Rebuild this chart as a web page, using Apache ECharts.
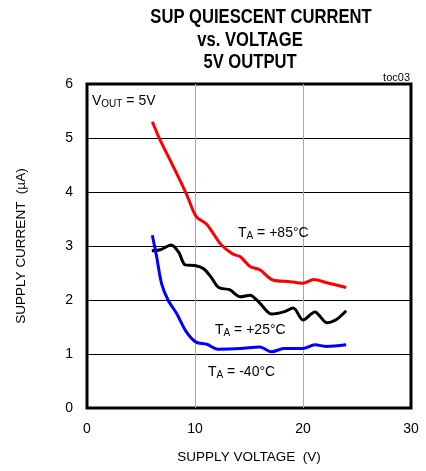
<!DOCTYPE html>
<html>
<head>
<meta charset="utf-8">
<script src="https://cdn.jsdelivr.net/npm/echarts@6/dist/echarts.min.js"></script>
<style>html,body{margin:0;padding:0;background:#fff;}#c{width:426px;height:471px;}</style>
</head>
<body>
<div id="c"></div>
<script>
// Data
const xTicks = [0, 10, 20, 30];
const yTicks = [0, 1, 2, 3, 4, 5, 6];

const hotV = [6.05, 6.8, 7.7, 8.6, 9.3, 10.1, 11.1, 12.4, 13.5, 14.2, 15.1, 16.0, 17.2, 18.8, 20.0, 21.0, 22.2, 24.0];
const hotI = [5.30, 4.95, 4.59, 4.22, 3.92, 3.55, 3.40, 3.03, 2.85, 2.80, 2.62, 2.56, 2.37, 2.34, 2.31, 2.38, 2.32, 2.23];

const roomV = [6.0, 6.8, 7.8, 8.5, 9.1, 10.0, 10.8, 11.5, 12.2, 13.2, 14.2, 15.1, 16.0, 17.1, 18.2, 19.1, 20.0, 21.1, 22.2, 23.1, 24.0];
const roomI = [2.91, 2.93, 3.02, 2.88, 2.65, 2.64, 2.58, 2.42, 2.23, 2.19, 2.06, 2.09, 1.94, 1.74, 1.78, 1.85, 1.63, 1.78, 1.58, 1.64, 1.80];

const coldV = [6.05, 6.45, 6.9, 7.5, 8.3, 9.2, 10.1, 11.1, 12.1, 14.2, 16.0, 17.1, 18.2, 20.0, 21.1, 22.2, 24.0];
const coldI = [3.20, 2.80, 2.31, 2.00, 1.75, 1.41, 1.22, 1.18, 1.09, 1.10, 1.13, 1.04, 1.10, 1.10, 1.17, 1.14, 1.17];

const titleLines = ['SUP QUIESCENT CURRENT', 'vs. VOLTAGE', '5V OUTPUT'];

const zip = (a, b) => a.map((v, i) => [v, b[i]]);
const FONT = "'Liberation Sans', Arial, sans-serif";

const chart = echarts.init(document.getElementById('c'), null, {renderer: 'canvas'});

function txt(x, y, rich, text, extra) {
  return Object.assign({
    type: 'text', x: x, y: y, z: 100,
    style: {
      text: text, rich: rich,
      fontFamily: FONT, fontSize: 14,
      textAlign: 'left', textVerticalAlign: 'middle',
      align: 'left', verticalAlign: 'middle'
    }
  }, extra || {});
}

function subRich(color) {
  return {
    a: {fontFamily: FONT, fontSize: 14, color: color, lineHeight: 18},
    s: {fontFamily: FONT, fontSize: 10, color: color, lineHeight: 18, padding: [6, 0, 0, 0]}
  };
}

const titleY = [17.5, 40, 62.5];
const titleX = [261, 250, 250];

const graphics = titleLines.map((t, i) => ({
  type: 'text', x: titleX[i], y: titleY[i], scaleX: 0.83, z: 100,
  style: {
    text: t, fontFamily: FONT, fontSize: 20, fontWeight: 'bold', fill: '#000',
    textAlign: 'center', textVerticalAlign: 'middle', align: 'center', verticalAlign: 'middle'
  }
}));

graphics.push({
  type: 'text', x: 410, y: 78, z: 100,
  style: {text: 'toc03', fontFamily: FONT, fontSize: 11, fill: '#000',
    textAlign: 'right', textVerticalAlign: 'middle', align: 'right', verticalAlign: 'middle'}
});
graphics.push(txt(92, 101, subRich('#000'), '{a|V}{s|OUT}{a| = 5V}'));
graphics.push(txt(238, 233, subRich('#ff0000'), '{a|T}{s|A}{a| = +85°C}'));
graphics.push(txt(215, 330, subRich('#000'), '{a|T}{s|A}{a| = +25°C}'));
graphics.push(txt(208, 372, subRich('#0000ff'), '{a|T}{s|A}{a| = -40°C}'));

const option = {
  animation: false,
  backgroundColor: '#fff',
  grid: {left: 87, right: 15, top: 84, bottom: 63, show: true, borderWidth: 3, borderColor: '#000', backgroundColor: 'transparent'},
  xAxis: {
    type: 'value', min: xTicks[0], max: xTicks[xTicks.length - 1], interval: 10,
    name: 'SUPPLY VOLTAGE  (V)', nameLocation: 'middle', nameGap: 42,
    nameTextStyle: {fontFamily: FONT, fontSize: 13.5, color: '#000'},
    axisLine: {show: false}, axisTick: {show: false},
    axisLabel: {fontFamily: FONT, fontSize: 14, color: '#000', margin: 14},
    splitLine: {show: true, showMinLine: false, showMaxLine: false, lineStyle: {color: '#a8a8a8', width: 1}}
  },
  yAxis: {
    type: 'value', min: yTicks[0], max: yTicks[yTicks.length - 1], interval: 1,
    name: 'SUPPLY CURRENT  (µA)', nameLocation: 'middle', nameGap: 59,
    nameTextStyle: {fontFamily: FONT, fontSize: 13.5, color: '#000'},
    axisLine: {show: false}, axisTick: {show: false},
    axisLabel: {fontFamily: FONT, fontSize: 14, color: '#000', margin: 14},
    splitLine: {show: true, showMinLine: false, showMaxLine: false, lineStyle: {color: '#000', width: 1}}
  },
  series: [
    {type: 'line', data: zip(hotV, hotI), smooth: 0.3, showSymbol: false, lineStyle: {color: '#ff0000', width: 3}, z: 10},
    {type: 'line', data: zip(roomV, roomI), smooth: 0.3, showSymbol: false, lineStyle: {color: '#000000', width: 3}, z: 10},
    {type: 'line', data: zip(coldV, coldI), smooth: 0.3, showSymbol: false, lineStyle: {color: '#0000ff', width: 3}, z: 10}
  ],
  graphic: graphics
};
chart.setOption(option);
</script>
</body>
</html>
